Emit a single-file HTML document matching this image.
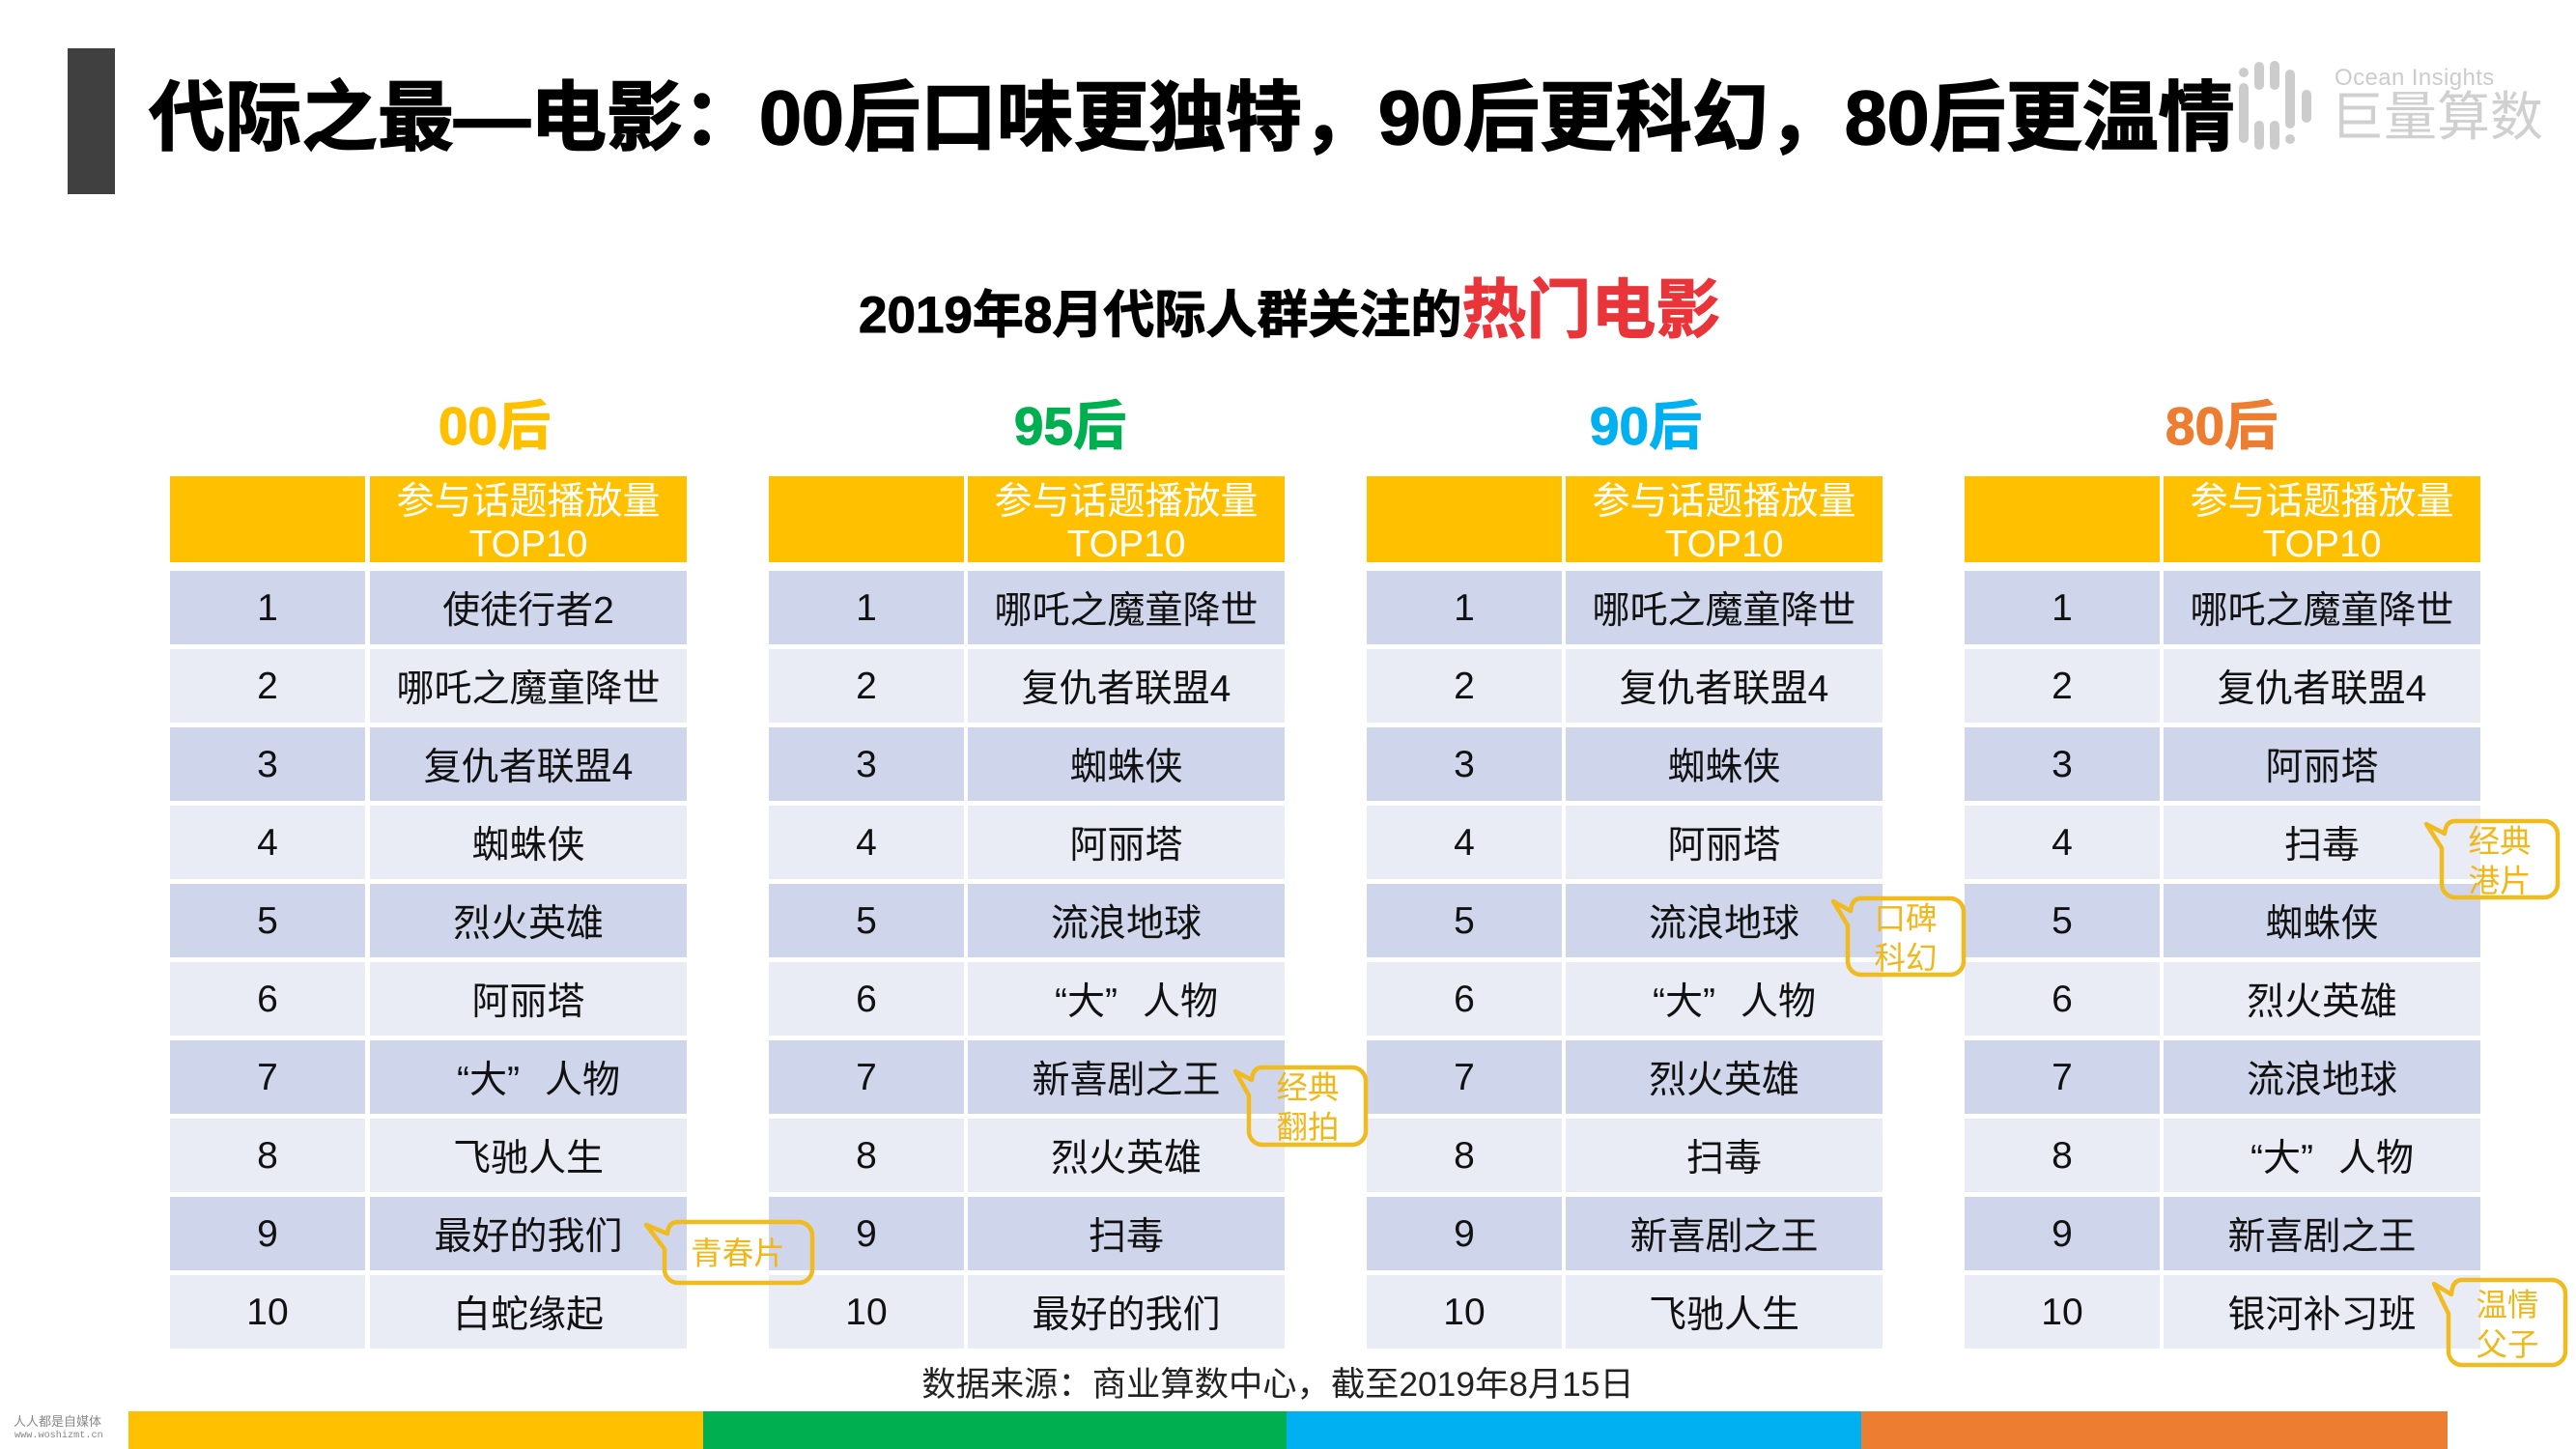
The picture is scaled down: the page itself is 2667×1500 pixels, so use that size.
<!DOCTYPE html>
<html lang="zh-CN">
<head>
<meta charset="utf-8">
<title>代际之最—电影</title>
<style>
html,body{margin:0;padding:0;background:#fff;}
#slide{position:relative;width:2667px;height:1500px;overflow:hidden;background:#fff;font-family:"Liberation Sans","Noto Sans CJK SC",sans-serif;}
.abs{position:absolute;white-space:nowrap;}
.ctr{transform:translate(-50%,-50%);}
.b{font-weight:700;}
.tbl{position:absolute;top:493px;width:536px;display:grid;grid-template-columns:202px 328px;column-gap:4px;grid-template-rows:93px repeat(10,76px);row-gap:5px;font-size:39px;color:#111;}
.tbl>div{display:flex;align-items:center;justify-content:center;text-align:center;white-space:nowrap;}
.tbl>div:nth-child(odd){padding-top:2px;box-sizing:border-box;}
.tbl .h{background:#ffc000;color:#fff;line-height:44px;height:89px;}
.tbl .h span{display:block;position:relative;top:4px;}
.tbl .d{background:#cfd5ea;}
.tbl .l{background:#e9ebf5;}
.q{padding-left:21px;}
.q i{font-style:normal;margin-left:26px;}
.note{position:absolute;color:#f0b71a;font-size:32.5px;line-height:41px;text-align:center;transform:translate(-50%,-50%);white-space:nowrap;}
</style>
</head>
<body>
<div id="slide">

<div class="abs" style="left:70px;top:50px;width:49px;height:151px;background:#404040;"></div>
<div class="abs b" style="left:154px;top:72px;font-size:79px;line-height:100px;color:#000;-webkit-text-stroke:1.5px #000;">代际之最—电影：00后口味更独特，90后更科幻，80后更温情</div>

<svg class="abs" style="left:2300px;top:50px;" width="100" height="120" viewBox="2300 50 100 120">
<g fill="#cccccc">
<rect x="2318" y="70" width="10" height="10" rx="5"/>
<rect x="2318" y="86" width="10" height="62" rx="5"/>
<rect x="2334" y="64" width="10" height="29" rx="5"/>
<rect x="2334" y="125" width="10" height="30" rx="5"/>
<rect x="2350" y="63" width="10" height="30" rx="5"/>
<rect x="2350" y="125" width="10" height="30" rx="5"/>
<rect x="2366" y="72" width="10" height="61" rx="5"/>
<rect x="2366" y="139" width="10" height="10" rx="5"/>
<rect x="2383" y="93" width="10" height="34" rx="5"/>
</g>
</svg>
<div class="abs" style="left:2417px;top:66px;font-size:24px;line-height:30px;letter-spacing:0.4px;color:#cccccc;">Ocean Insights</div>
<div class="abs" style="left:2413px;top:90px;font-size:55px;line-height:62px;color:#d0d0d0;">巨量算数</div>

<div class="abs b" style="left:889px;top:277px;font-size:53px;line-height:90px;color:#000;-webkit-text-stroke:1px #000;">2019年8月代际人群关注的<span style="font-size:67px;color:#e9343a;-webkit-text-stroke:1px #e9343a;">热门电影</span></div>

<div class="abs ctr b" style="left:512px;top:441px;font-size:55px;line-height:64px;color:#ffc000;-webkit-text-stroke:1px #ffc000;">00后</div>
<div class="abs ctr b" style="left:1108px;top:441px;font-size:55px;line-height:64px;color:#00b050;-webkit-text-stroke:1px #00b050;">95后</div>
<div class="abs ctr b" style="left:1704px;top:441px;font-size:55px;line-height:64px;color:#00b0f0;-webkit-text-stroke:1px #00b0f0;">90后</div>
<div class="abs ctr b" style="left:2300px;top:441px;font-size:55px;line-height:64px;color:#ed7d31;-webkit-text-stroke:1px #ed7d31;">80后</div>

<!-- 00后 -->
<div class="tbl" style="left:176px;column-gap:5px;">
<div class="h"></div><div class="h"><span>参与话题播放量<br>TOP10</span></div>
<div class="d">1</div><div class="d">使徒行者2</div>
<div class="l">2</div><div class="l">哪吒之魔童降世</div>
<div class="d">3</div><div class="d">复仇者联盟4</div>
<div class="l">4</div><div class="l">蜘蛛侠</div>
<div class="d">5</div><div class="d">烈火英雄</div>
<div class="l">6</div><div class="l">阿丽塔</div>
<div class="d">7</div><div class="d"><span class="q">“大”<i>人物</i></span></div>
<div class="l">8</div><div class="l">飞驰人生</div>
<div class="d">9</div><div class="d">最好的我们</div>
<div class="l">10</div><div class="l">白蛇缘起</div>
</div>

<!-- 95后 -->
<div class="tbl" style="left:796px;">
<div class="h"></div><div class="h"><span>参与话题播放量<br>TOP10</span></div>
<div class="d">1</div><div class="d">哪吒之魔童降世</div>
<div class="l">2</div><div class="l">复仇者联盟4</div>
<div class="d">3</div><div class="d">蜘蛛侠</div>
<div class="l">4</div><div class="l">阿丽塔</div>
<div class="d">5</div><div class="d">流浪地球</div>
<div class="l">6</div><div class="l"><span class="q">“大”<i>人物</i></span></div>
<div class="d">7</div><div class="d">新喜剧之王</div>
<div class="l">8</div><div class="l">烈火英雄</div>
<div class="d">9</div><div class="d">扫毒</div>
<div class="l">10</div><div class="l">最好的我们</div>
</div>

<!-- 90后 -->
<div class="tbl" style="left:1415px;">
<div class="h"></div><div class="h"><span>参与话题播放量<br>TOP10</span></div>
<div class="d">1</div><div class="d">哪吒之魔童降世</div>
<div class="l">2</div><div class="l">复仇者联盟4</div>
<div class="d">3</div><div class="d">蜘蛛侠</div>
<div class="l">4</div><div class="l">阿丽塔</div>
<div class="d">5</div><div class="d">流浪地球</div>
<div class="l">6</div><div class="l"><span class="q">“大”<i>人物</i></span></div>
<div class="d">7</div><div class="d">烈火英雄</div>
<div class="l">8</div><div class="l">扫毒</div>
<div class="d">9</div><div class="d">新喜剧之王</div>
<div class="l">10</div><div class="l">飞驰人生</div>
</div>

<!-- 80后 -->
<div class="tbl" style="left:2034px;">
<div class="h"></div><div class="h"><span>参与话题播放量<br>TOP10</span></div>
<div class="d">1</div><div class="d">哪吒之魔童降世</div>
<div class="l">2</div><div class="l">复仇者联盟4</div>
<div class="d">3</div><div class="d">阿丽塔</div>
<div class="l">4</div><div class="l">扫毒</div>
<div class="d">5</div><div class="d">蜘蛛侠</div>
<div class="l">6</div><div class="l">烈火英雄</div>
<div class="d">7</div><div class="d">流浪地球</div>
<div class="l">8</div><div class="l"><span class="q">“大”<i>人物</i></span></div>
<div class="d">9</div><div class="d">新喜剧之王</div>
<div class="l">10</div><div class="l">银河补习班</div>
</div>

<!-- callouts -->
<svg class="abs" style="left:0;top:0;" width="2667" height="1500" viewBox="0 0 2667 1500" fill="none" stroke="#f0bb1e" stroke-width="4.5" stroke-linejoin="round">
<path d="M702 1265 H827 A14 14 0 0 1 841 1279 V1314 A14 14 0 0 1 827 1328 H702 A14 14 0 0 1 688 1314 V1293 L669 1268 L691 1277 Q692 1265 702 1265 Z"/>
<path d="M1307 1105 H1400 A14 14 0 0 1 1414 1119 V1171 A14 14 0 0 1 1400 1185 H1307 A14 14 0 0 1 1293 1171 V1134 L1279 1109 L1296 1118 Q1297 1105 1307 1105 Z"/>
<path d="M1927 930 H2019 A14 14 0 0 1 2033 944 V995 A14 14 0 0 1 2019 1009 H1927 A14 14 0 0 1 1913 995 V958 L1898 933 L1916 943 Q1917 930 1927 930 Z"/>
<path d="M2542 850 H2634 A14 14 0 0 1 2648 864 V915 A14 14 0 0 1 2634 929 H2542 A14 14 0 0 1 2528 915 V878 L2512 853 L2531 863 Q2532 850 2542 850 Z"/>
<path d="M2549 1325 H2642 A14 14 0 0 1 2656 1339 V1399 A14 14 0 0 1 2642 1413 H2549 A14 14 0 0 1 2535 1399 V1360 L2520 1329 L2538 1340 Q2539 1325 2549 1325 Z"/>
</svg>
<div class="note" style="left:764px;top:1298px;">青春片</div>
<div class="note" style="left:1354px;top:1147px;">经典<br>翻拍</div>
<div class="note" style="left:1973px;top:972px;">口碑<br>科幻</div>
<div class="note" style="left:2588px;top:892px;">经典<br>港片</div>
<div class="note" style="left:2596px;top:1372px;">温情<br>父子</div>

<div class="abs ctr" style="left:1323px;top:1434px;font-size:35.3px;line-height:44px;color:#222;">数据来源：商业算数中心，截至2019年8月15日</div>

<div class="abs" style="left:14px;top:1464px;font-size:13px;line-height:16px;color:#888;">人人都是自媒体</div>
<div class="abs" style="left:15px;top:1481px;font-family:'Liberation Mono',monospace;font-size:10.2px;line-height:12px;color:#888;">www.woshizmt.cn</div>

<div class="abs" style="left:133px;top:1461px;width:595px;height:39px;background:#ffc000;"></div>
<div class="abs" style="left:728px;top:1461px;width:604px;height:39px;background:#00b050;"></div>
<div class="abs" style="left:1332px;top:1461px;width:595px;height:39px;background:#00b0f0;"></div>
<div class="abs" style="left:1927px;top:1461px;width:607px;height:39px;background:#ed7d31;"></div>

</div>
</body>
</html>
